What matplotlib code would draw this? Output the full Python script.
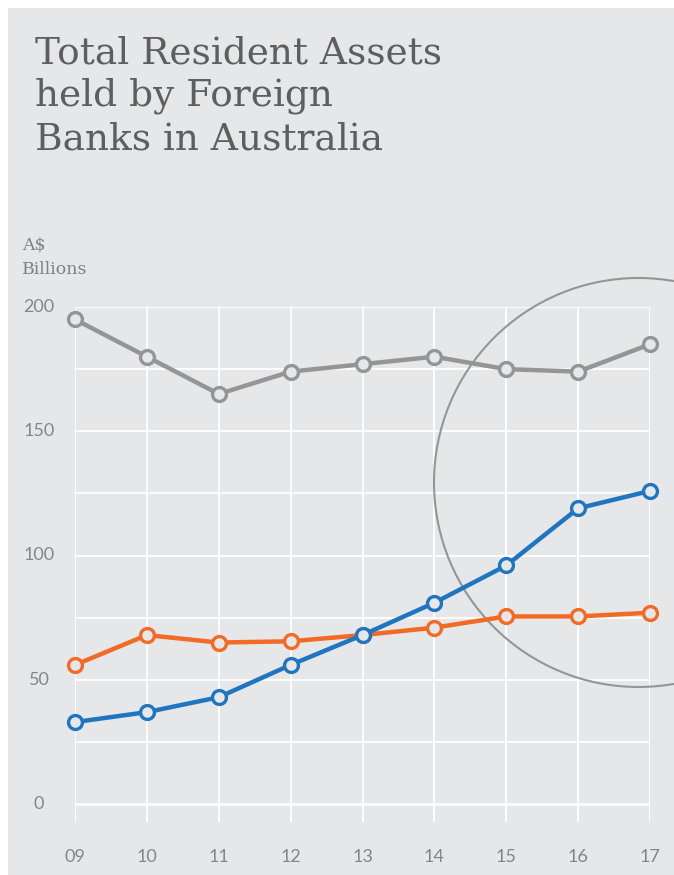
import matplotlib
matplotlib.use('Agg')
import matplotlib.pyplot as plt
from matplotlib.patches import Rectangle, Circle

years = [9, 10, 11, 12, 13, 14, 15, 16, 17]
year_labels = ['09', '10', '11', '12', '13', '14', '15', '16', '17']
grey_vals = [195, 180, 165, 174, 177, 180, 175, 174, 185]
blue_vals = [33, 37, 43, 56, 68, 81, 96, 119, 126]
orange_vals = [56, 68, 65, 65.5, 68, 71, 75.5, 75.5, 77]
y_ticks = [0, 50, 100, 150, 200]
title_lines = ['Total Resident Assets', 'held by Foreign', 'Banks in Australia']
unit_lines = ['A$', 'Billions']

bg = '#e6e7e8'
W, H = 674, 875
fig = plt.figure(figsize=(W / 100, H / 100), dpi=100)
fig.patch.set_facecolor('white')
fig.patches.append(Rectangle((8 / W, 0), 1, (H - 8) / H, transform=fig.transFigure,
                             facecolor=bg, edgecolor='none', zorder=-5))

# plot area: x 75..650 px, y 307..822 px
ymin = -7.2
ax = fig.add_axes([75 / W, 1 - 822 / H, (650 - 75) / W, (822 - 307) / H])
ax.set_xlim(9, 17)
ax.set_ylim(ymin, 200)
ax.axis('off')

for y in range(0, 201, 25):
    ax.hlines(y, 9, 17, color='white', lw=1.8 if y == 0 else 1.3, zorder=1)
for x in years:
    ax.vlines(x, ymin, 200, color='white', lw=1.3, zorder=1)

# circle highlight
circ = Circle((638.5 / 100, (H - 482.5) / 100), 2.045, transform=fig.dpi_scale_trans,
              facecolor='none', edgecolor='#959595', lw=1.5, zorder=2, clip_on=False)
ax.add_patch(circ)

for vals, col in [(grey_vals, '#959595'), (orange_vals, '#f26a24'), (blue_vals, '#1f75bf')]:
    ax.plot(years, vals, color=col, lw=3.2, marker='o', ms=10, mew=2.4,
            mfc=bg, mec=col, zorder=3, clip_on=False)

for x, lab in zip(years, year_labels):
    ax.text(x, ymin - (857 - 822) / 2.485, lab, ha='center', va='center',
            fontsize=13, family='Lato', color='#858585')
for y in y_ticks:
    fig.text(39 / W, 1 - (804 - y * 2.485) / H, str(y), ha='center', va='center',
             fontsize=13, family='Lato', color='#858585')

for i, line in enumerate(unit_lines):
    fig.text(22 / W, 1 - (250 + i * 24) / H, line, ha='left', va='baseline',
             fontsize=12.5, family='DejaVu Serif', color='#808080')

for i, line in enumerate(title_lines):
    fig.text(35 / W, 1 - (63 + i * 43) / H, line, ha='left', va='baseline',
             fontsize=27, family='DejaVu Serif', color='#5e5e5e')

fig.savefig('out.png', dpi=100)
